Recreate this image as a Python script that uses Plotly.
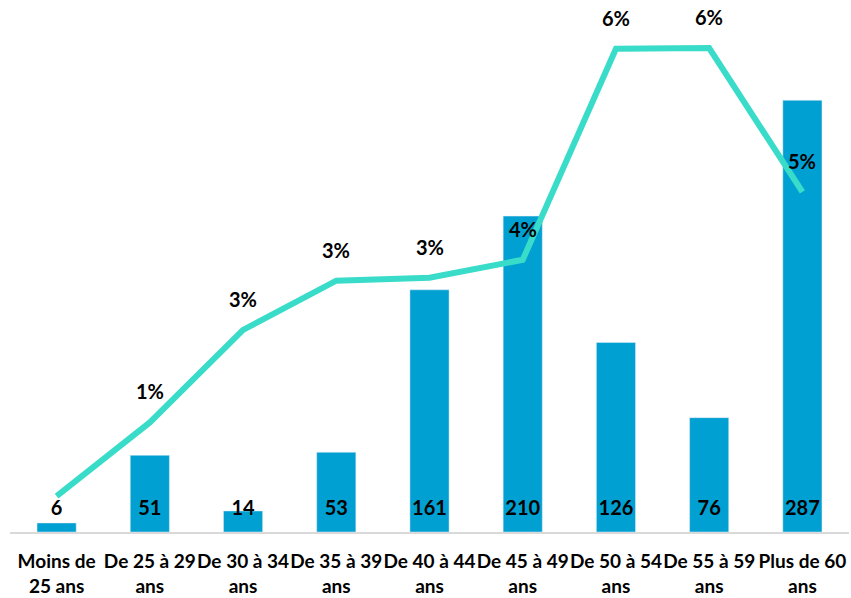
import plotly.graph_objects as go

categories = ["Moins de<br>25 ans", "De 25 à 29<br>ans", "De 30 à 34<br>ans", "De 35 à 39<br>ans",
              "De 40 à 44<br>ans", "De 45 à 49<br>ans", "De 50 à 54<br>ans", "De 55 à 59<br>ans",
              "Plus de 60<br>ans"]
counts = [6, 51, 14, 53, 161, 210, 126, 76, 287]
rates = [0.0048, 0.0147, 0.0271, 0.0337, 0.0341, 0.0365, 0.0648, 0.0649, 0.0456]
rate_labels = ["", "1%", "3%", "3%", "3%", "4%", "6%", "6%", "5%"]

BAR_COLOR = "#00A0D2"
LINE_COLOR = "#38DCC8"
FONT = "Lato"
LABEL_Y = 14.6

fig = go.Figure()
fig.add_trace(go.Bar(x=categories, y=counts, marker=dict(color=BAR_COLOR), hoverinfo="skip"))
fig.add_trace(go.Scatter(x=categories, y=[LABEL_Y] * len(counts), mode="text",
                         text=[str(c) for c in counts], textposition="middle center",
                         textfont=dict(family=FONT, size=20, color="black", weight="bold"),
                         hoverinfo="skip"))
fig.add_trace(go.Scatter(x=categories, y=rates, yaxis="y2", mode="lines",
                         line=dict(color=LINE_COLOR, width=6), hoverinfo="skip"))

for cat, r, lab in zip(categories, rates, rate_labels):
    if lab:
        fig.add_annotation(x=cat, y=r, yref="y2", text=lab, showarrow=False,
                           yanchor="middle", yshift=31,
                           font=dict(family=FONT, size=20, color="black", weight="bold"))

fig.update_layout(
    width=851, height=598,
    margin=dict(l=10, r=2, t=10, b=66),
    paper_bgcolor="white", plot_bgcolor="white",
    showlegend=False, bargap=0.58,
    xaxis=dict(showline=True, linecolor="#D9D9D9", linewidth=2, showgrid=False,
               ticks="", ticklabelstandoff=11, tickangle=0, automargin=False,
               tickfont=dict(family=FONT, size=19, color="black", weight="bold")),
    yaxis=dict(range=[0, 347], visible=False, showgrid=False),
    yaxis2=dict(range=[0, 0.07], overlaying="y", visible=False, showgrid=False),
)

fig.write_html("out.html", config={"displayModeBar": False},
               post_script="document.body.style.margin='0';")
